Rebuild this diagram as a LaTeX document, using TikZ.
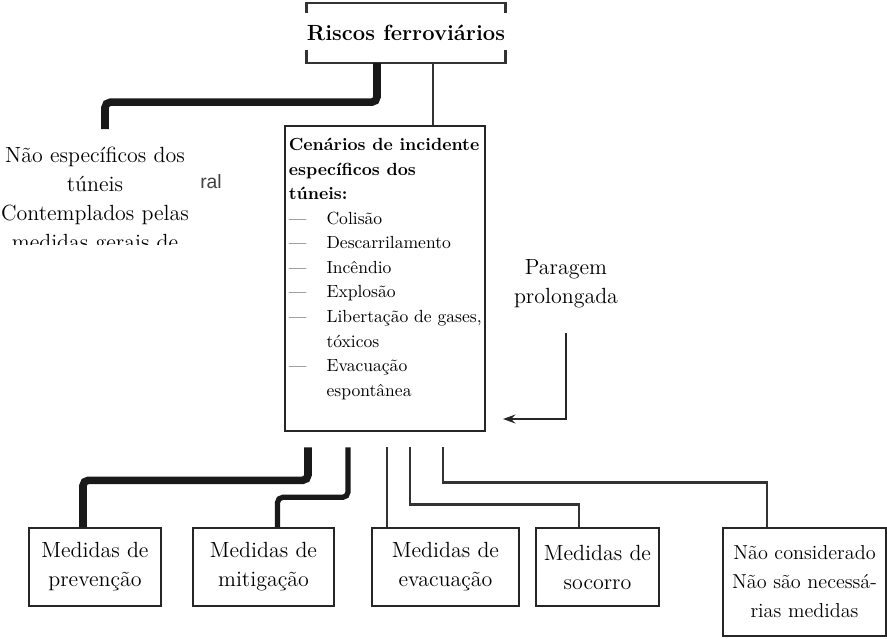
\documentclass[tikz,border=0pt]{standalone}
\usepackage{fontspec}
\usepackage{tikz}
\usetikzlibrary{arrows.meta,calc}
\newfontfamily\arialfont{Liberation Sans}

\begin{document}
\begin{tikzpicture}[
  x=0.02cm, y=-0.02cm,
  txt/.style={font=\fontsize{12.5}{16.5}\selectfont,align=center,inner sep=0pt},
  box/.style={draw=black!85,line width=1.1pt,align=center,inner sep=2pt,minimum height=44.2pt,font=\fontsize{12.5}{16.5}\selectfont},
  heavy/.style={line width=4.3pt,black!90,rounded corners=3pt},
  medium/.style={line width=3pt,black!90,rounded corners=3pt},
  lite/.style={line width=1.4pt,black!80},
  arr/.style={-{Stealth[length=7pt,width=5pt]},line width=1.5pt,black!85}
]
\useasboundingbox (0,0) rectangle (887,639);
% root of the tree
\node[txt,font=\fontsize{12.5}{14}\selectfont\bfseries,minimum width=102pt,minimum height=34pt] (risk) at (406,33) {Riscos ferroviários};
\draw[lite] ([yshift=-5.7pt]risk.north west) -- (risk.north west) -- (risk.north east) -- ([yshift=-5.7pt]risk.north east);
\draw[lite] ([yshift=7.4pt]risk.south west) -- (risk.south west) -- (risk.south east) -- ([yshift=7.4pt]risk.south east);
% left branch, cut off at the bottom
\begin{scope}
  \clip (0,100) rectangle (260,244);
  \node[txt] (nao) at (95,201) {Não específicos dos\\túneis\\Contemplados pelas\\medidas gerais de};
\end{scope}
\node[font=\arialfont\fontsize{11}{13}\selectfont,text=black!75,inner sep=0pt] (ral) at (211,182) {ral};
% scenario box
\node[draw=black!85,line width=1.1pt,minimum width=113.4pt,minimum height=174pt] (scen) at (385,278.5) {};
\node[anchor=north west,align=left,inner sep=0pt,font=\fontsize{10}{14}\selectfont] (scentxt) at ($(scen.north west)+(4,13)$) {%
  \textbf{Cenários de incidente}\\
  \textbf{específicos dos}\\
  \textbf{túneis:}\\
  \makebox[21.5pt][l]{---}Colisão\\
  \makebox[21.5pt][l]{---}Descarrilamento\\
  \makebox[21.5pt][l]{---}Incêndio\\
  \makebox[21.5pt][l]{---}Explosão\\
  \makebox[21.5pt][l]{---}Libertação de gases,\\
  \hspace*{21.5pt}tóxicos\\
  \makebox[21.5pt][l]{---}Evacuação\\
  \hspace*{21.5pt}espontânea};
\node[txt] (parag) at (566,284) {Paragem\\prolongada};
\coordinate (arrend) at (503,419);
% measures
\node[box,minimum width=74.8pt] (prev) at (95,567) {Medidas de\\prevenção};
\node[box,minimum width=79.9pt] (mitig) at (263.5,567) {Medidas de\\mitigação};
\node[box,minimum width=83.3pt] (evac) at (445.5,567) {Medidas de\\evacuação};
\node[box,minimum width=69.7pt] (socor) at (597.5,567) {Medidas de\\socorro};
\node[box,minimum width=92.4pt,minimum height=61.2pt,font=\fontsize{11.5}{16.5}\selectfont] (nocons) at (804.5,582) {Não considerado\\Não são necessá-\\rias medidas};
% connectors
\coordinate (rs) at ($(risk.south)+(27,0)$);
\draw[heavy] ($(risk.south)+(-29,0)$) -- ++(0,39) -| ($(nao.north)+(10,-18)$);
\draw[lite] (rs) -- (rs |- scen.north);
\draw[arr,shorten <=14pt] (parag.south) |- (arrend);
\draw[heavy] ($(scen.south)+(-77,15)$) -- ++(0,33) -| ($(prev.north)+(-12,0)$);
\draw[medium] ($(scen.south)+(-37,15)$) -- ++(0,50) -| ($(mitig.north)+(14,0)$);
\draw[lite] ($(scen.south)+(2,15)$) -- ($(evac.north)+(-58.5,0)$);
\draw[lite] ($(scen.south)+(25,15)$) -- ++(0,57) -| ($(socor.north)+(-18.5,0)$);
\draw[lite] ($(scen.south)+(58,15)$) -- ++(0,35) -| ($(nocons.north)+(-37.5,0)$);
\end{tikzpicture}
\end{document}
